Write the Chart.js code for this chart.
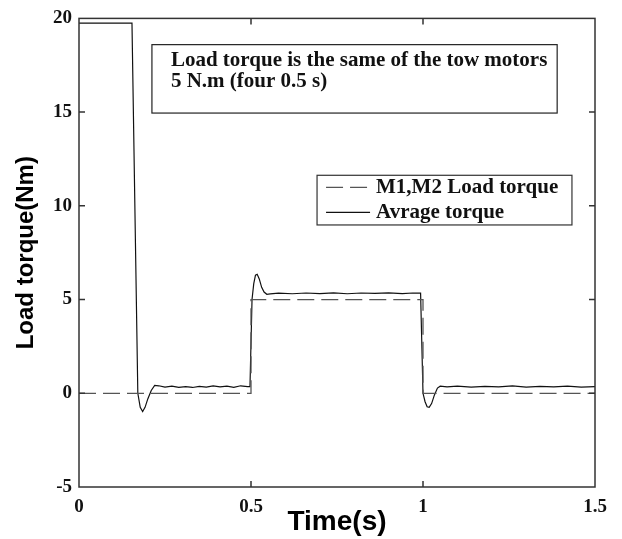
<!DOCTYPE html>
<html lang="en">
<head>
    <meta charset="UTF-8">
    <title>Load torque</title>
    <script src="https://cdnjs.cloudflare.com/ajax/libs/Chart.js/4.4.0/chart.umd.min.js"></script>
    <style>
        body { margin: 0; background: #fff; }
        .chart-container { position: relative; width: 622px; height: 539px; }
    </style>
</head>
<body>
    <div class="chart-container">
        <canvas id="torqueChart" width="622" height="539"></canvas>
    </div>
    <script>
        // data
        const avgTime = [0, 0.154, 0.171, 0.178, 0.185, 0.192, 0.200, 0.210, 0.220, 0.232, 0.25, 0.27, 0.29, 0.31, 0.33, 0.35, 0.37, 0.39, 0.41, 0.43, 0.45, 0.47, 0.49, 0.497,
            0.503, 0.508, 0.513, 0.518, 0.524, 0.531, 0.538, 0.546, 0.556, 0.58, 0.62, 0.66, 0.70, 0.74, 0.78, 0.82, 0.86, 0.90, 0.94, 0.97, 0.993,
            1.000, 1.006, 1.012, 1.018, 1.025, 1.033, 1.042, 1.05, 1.07, 1.10, 1.14, 1.18, 1.22, 1.26, 1.30, 1.34, 1.38, 1.42, 1.46, 1.5];
        const avgTorque = [19.75, 19.75, 0.0, -0.75, -0.97, -0.75, -0.3, 0.15, 0.42, 0.40, 0.33, 0.38, 0.32, 0.36, 0.31, 0.37, 0.33, 0.39, 0.34, 0.38, 0.32, 0.40, 0.36, 0.35,
            5.0, 5.85, 6.3, 6.35, 6.1, 5.65, 5.4, 5.28, 5.3, 5.34, 5.31, 5.35, 5.32, 5.36, 5.31, 5.35, 5.33, 5.36, 5.32, 5.35, 5.34,
            0.0, -0.45, -0.72, -0.75, -0.55, -0.1, 0.28, 0.38, 0.34, 0.38, 0.33, 0.37, 0.34, 0.39, 0.33, 0.37, 0.34, 0.38, 0.33, 0.36];
        const loadTime = [0, 0.5, 0.5, 1, 1, 1.5];
        const loadTorque = [0, 0, 5, 5, 0, 0];
        const xTicks = [0, 0.5, 1, 1.5];
        const xTickLabels = ['0', '0.5', '1', '1.5'];
        const yTicks = [-5, 0, 5, 10, 15, 20];
        const seriesNames = ['M1,M2 Load torque', 'Avrage torque'];
        const noteLines = ['Load torque is the same of the tow motors', '5 N.m (four 0.5 s)'];

        const serif = '"Liberation Serif", "Times New Roman", serif';
        const sans = '"Liberation Sans", Arial, sans-serif';
        const dash = [17, 7];

        const toPoints = (xs, ys) => xs.map((x, i) => ({ x: x, y: ys[i] }));

        // axes box, inward ticks, note box and legend
        const decorations = {
            id: 'decorations',
            afterDatasetsDraw(chart) {
                const ctx = chart.ctx;
                const a = chart.chartArea;
                const xs = chart.scales.x, ys = chart.scales.y;
                ctx.save();
                ctx.strokeStyle = '#333';
                ctx.lineWidth = 1.5;
                ctx.strokeRect(a.left, a.top, a.right - a.left, a.bottom - a.top);
                ctx.beginPath();
                xTicks.slice(1, -1).forEach(v => {
                    const px = xs.getPixelForValue(v);
                    ctx.moveTo(px, a.bottom); ctx.lineTo(px, a.bottom - 6);
                    ctx.moveTo(px, a.top); ctx.lineTo(px, a.top + 6);
                });
                yTicks.slice(1, -1).forEach(v => {
                    const py = ys.getPixelForValue(v);
                    ctx.moveTo(a.left, py); ctx.lineTo(a.left + 6, py);
                    ctx.moveTo(a.right, py); ctx.lineTo(a.right - 6, py);
                });
                ctx.stroke();

                // note box
                let l = xs.getPixelForValue(0.212), r = xs.getPixelForValue(1.39);
                let t = ys.getPixelForValue(18.6), b = ys.getPixelForValue(14.95);
                ctx.fillStyle = '#fff';
                ctx.fillRect(l, t, r - l, b - t);
                ctx.strokeStyle = '#222';
                ctx.lineWidth = 1.2;
                ctx.strokeRect(l, t, r - l, b - t);
                ctx.fillStyle = '#111';
                ctx.font = 'bold 21px ' + serif;
                ctx.textBaseline = 'alphabetic';
                ctx.fillText(noteLines[0], l + 19, t + 21);
                ctx.fillText(noteLines[1], l + 19, t + 42);

                // legend box
                l = xs.getPixelForValue(0.692); r = xs.getPixelForValue(1.433);
                t = ys.getPixelForValue(11.63); b = ys.getPixelForValue(8.98);
                ctx.fillStyle = '#fff';
                ctx.fillRect(l, t, r - l, b - t);
                ctx.strokeStyle = '#333';
                ctx.strokeRect(l, t, r - l, b - t);
                chart.data.datasets.forEach((ds, i) => {
                    const y = t + 12 + i * 25;
                    ctx.beginPath();
                    ctx.strokeStyle = ds.borderColor;
                    ctx.lineWidth = ds.borderWidth;
                    ctx.setLineDash(ds.borderDash || []);
                    ctx.moveTo(l + 9, y); ctx.lineTo(l + 53, y);
                    ctx.stroke();
                    ctx.setLineDash([]);
                    ctx.fillStyle = '#111';
                    ctx.font = 'bold 21px ' + serif;
                    ctx.fillText(ds.label, l + 59, y + 6);
                });
                ctx.restore();
            }
        };

        const ctx = document.getElementById('torqueChart').getContext('2d');
        const torqueChart = new Chart(ctx, {
            type: 'line',
            data: {
                datasets: [{
                    label: seriesNames[0],
                    data: toPoints(loadTime, loadTorque),
                    borderColor: '#555',
                    borderWidth: 1.3,
                    borderDash: dash,
                    pointRadius: 0,
                    tension: 0
                }, {
                    label: seriesNames[1],
                    data: toPoints(avgTime, avgTorque),
                    borderColor: '#111',
                    borderWidth: 1.2,
                    pointRadius: 0,
                    tension: 0
                }]
            },
            options: {
                responsive: false,
                animation: false,
                devicePixelRatio: 1,
                layout: { padding: { left: 0, right: 27, top: 15, bottom: 0 } },
                plugins: { legend: { display: false }, tooltip: { enabled: false } },
                scales: {
                    x: {
                        type: 'linear',
                        min: 0,
                        max: 1.5,
                        afterBuildTicks: s => { s.ticks = xTicks.map(v => ({ value: v })); },
                        afterFit: s => { s.height = 52; },
                        grid: { display: false, drawTicks: false },
                        border: { display: false },
                        ticks: {
                            color: '#111', padding: 9, maxRotation: 0,
                            callback: (v, i) => xTickLabels[i],
                            font: { family: serif, size: 19, weight: 'bold' }
                        },
                        title: { display: true, text: 'Time(s)', color: '#000', padding: { top: 0, bottom: 0 }, font: { family: sans, size: 28, weight: 'bold' } }
                    },
                    y: {
                        type: 'linear',
                        min: -5,
                        max: 20,
                        afterBuildTicks: s => { s.ticks = yTicks.map(v => ({ value: v })); },
                        afterFit: s => { s.width = 79; },
                        grid: { display: false, drawTicks: false },
                        border: { display: false },
                        ticks: { color: '#111', padding: 7, font: { family: serif, size: 19, weight: 'bold' } },
                        title: { display: true, text: 'Load torque(Nm)', color: '#000', padding: { top: 12, bottom: 0 }, font: { family: sans, size: 24, weight: 'bold' } }
                    }
                }
            },
            plugins: [decorations]
        });
    </script>
</body>
</html>
